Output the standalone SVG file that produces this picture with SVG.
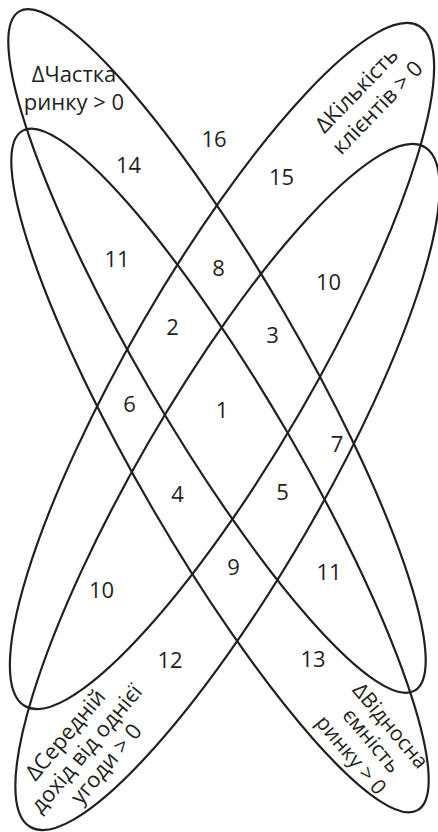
<svg xmlns="http://www.w3.org/2000/svg" width="438" height="832" viewBox="0 0 438 832">
<style>
.set{fill:none;stroke:#231f20;stroke-width:2.2}
text{font-family:"Open Sans","Noto Sans","Liberation Sans",sans-serif;font-size:22px;fill:#231f20;text-anchor:middle}
.lbl{font-size:21px}
</style>
<rect width="438" height="832" fill="#ffffff"/>
<g id="set-chastka">
<ellipse class="set" cx="217" cy="351" rx="393" ry="77.4" transform="rotate(59.8 217 351)"/>
<text x="74" y="82">ΔЧастка</text>
<text x="74" y="110">ринку &gt; 0</text>
</g>
<g id="set-vidnosna">
<ellipse class="set" cx="220" cy="470.5" rx="393" ry="77.4" transform="rotate(59.8 220 470.5)"/>
<g transform="translate(366 745) rotate(50)">
<text class="lbl" x="1" y="-24">ΔВідносна</text>
<text class="lbl" x="0" y="0">ємність</text>
<text class="lbl" x="-2" y="25">ринку &gt; 0</text>
</g>
</g>
<g id="set-kilkist">
<ellipse class="set" cx="222" cy="366" rx="393" ry="90.7" transform="rotate(-59.9 222 366)"/>
<g transform="translate(362 95.4) rotate(-46)">
<text x="0" y="0">ΔКількість</text>
<text x="2" y="27">клієнтів &gt; 0</text>
</g>
</g>
<g id="set-serednii">
<ellipse class="set" cx="227.5" cy="487" rx="393" ry="90.7" transform="rotate(-59.9 227.5 487)"/>
<g transform="translate(92.1 753.4) rotate(-50)">
<text x="-3" y="-25">ΔСередній</text>
<text x="0" y="0">дохід від однієї</text>
<text x="1" y="25">угоди &gt; 0</text>
</g>
</g>
<g id="regions">
<text x="214" y="147">16</text>
<text x="128.5" y="172.5">14</text>
<text x="281.5" y="185">15</text>
<text x="117" y="267">11</text>
<text x="218.5" y="276">8</text>
<text x="328.5" y="290">10</text>
<text x="172.5" y="335">2</text>
<text x="272.5" y="343">3</text>
<text x="129.5" y="412">6</text>
<text x="222" y="418">1</text>
<text x="337" y="452">7</text>
<text x="177.5" y="502">4</text>
<text x="282.5" y="500">5</text>
<text x="233.5" y="575">9</text>
<text x="329" y="580">11</text>
<text x="101.5" y="598">10</text>
<text x="170" y="668">12</text>
<text x="313" y="667">13</text>
</g>
</svg>
